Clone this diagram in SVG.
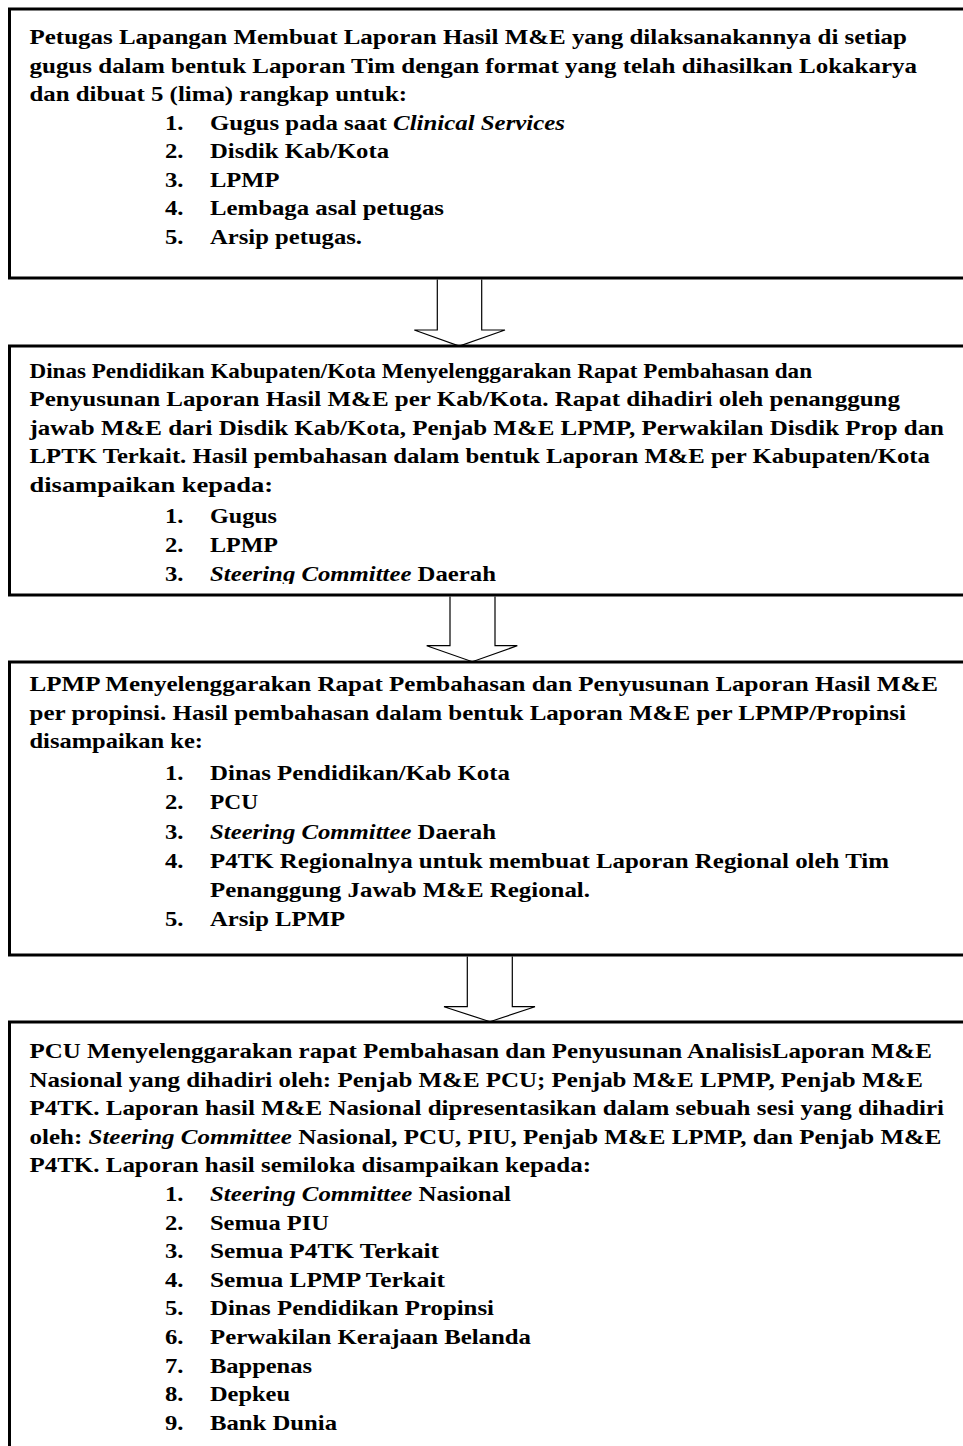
<svg xmlns="http://www.w3.org/2000/svg" width="963" height="1446" viewBox="0 0 963 1446">
<style>
.box{fill:#fff;stroke:#000;stroke-width:3}
.t{font-family:"Liberation Serif","Times New Roman",serif;font-weight:bold;font-size:22px;fill:#000}
.i{font-style:italic}
.arr{fill:none;stroke:#000;stroke-width:1.2;stroke-linejoin:miter}
</style>
<defs>
<clipPath id="clip2"><rect x="0" y="347" width="963" height="237"/></clipPath>
</defs>
<g id="node1">
<rect class="box" x="9.5" y="9" width="970" height="269"/>
<text class="t" x="29.5" y="44" textLength="877.5" lengthAdjust="spacingAndGlyphs">Petugas Lapangan Membuat Laporan Hasil M&amp;E yang dilaksanakannya di setiap</text>
<text class="t" x="29.5" y="72.5" textLength="887.5" lengthAdjust="spacingAndGlyphs">gugus dalam bentuk Laporan Tim dengan format yang telah dihasilkan Lokakarya</text>
<text class="t" x="29.5" y="101" textLength="377.5" lengthAdjust="spacingAndGlyphs">dan dibuat 5 (lima) rangkap untuk:</text>
<text class="t" x="165" y="129.5" textLength="18.5" lengthAdjust="spacingAndGlyphs">1.</text>
<text class="t" x="210" y="129.5" textLength="355" lengthAdjust="spacingAndGlyphs">Gugus pada saat <tspan class="i">Clinical Services</tspan></text>
<text class="t" x="165" y="158" textLength="18.5" lengthAdjust="spacingAndGlyphs">2.</text>
<text class="t" x="210" y="158" textLength="179" lengthAdjust="spacingAndGlyphs">Disdik Kab/Kota</text>
<text class="t" x="165" y="186.5" textLength="18.5" lengthAdjust="spacingAndGlyphs">3.</text>
<text class="t" x="210" y="186.5" textLength="69.5" lengthAdjust="spacingAndGlyphs">LPMP</text>
<text class="t" x="165" y="215" textLength="18.5" lengthAdjust="spacingAndGlyphs">4.</text>
<text class="t" x="210" y="215" textLength="234" lengthAdjust="spacingAndGlyphs">Lembaga asal petugas</text>
<text class="t" x="165" y="243.5" textLength="18.5" lengthAdjust="spacingAndGlyphs">5.</text>
<text class="t" x="210" y="243.5" textLength="152" lengthAdjust="spacingAndGlyphs">Arsip petugas.</text>
</g>
<g id="node2">
<rect class="box" x="9.5" y="346" width="970" height="249"/>
<g clip-path="url(#clip2)">
<text class="t" x="29.5" y="377.5" textLength="782.5" lengthAdjust="spacingAndGlyphs">Dinas Pendidikan Kabupaten/Kota Menyelenggarakan Rapat Pembahasan dan</text>
<text class="t" x="29.5" y="406" textLength="870.5" lengthAdjust="spacingAndGlyphs">Penyusunan Laporan Hasil M&amp;E per Kab/Kota. Rapat dihadiri oleh penanggung</text>
<text class="t" x="29.5" y="434.5" textLength="914.5" lengthAdjust="spacingAndGlyphs">jawab M&amp;E dari Disdik Kab/Kota, Penjab M&amp;E LPMP, Perwakilan Disdik Prop dan</text>
<text class="t" x="29.5" y="463" textLength="900.5" lengthAdjust="spacingAndGlyphs">LPTK Terkait. Hasil pembahasan dalam bentuk Laporan M&amp;E per Kabupaten/Kota</text>
<text class="t" x="29.5" y="491.5" textLength="243.5" lengthAdjust="spacingAndGlyphs">disampaikan kepada:</text>
<text class="t" x="165" y="522.5" textLength="18.5" lengthAdjust="spacingAndGlyphs">1.</text>
<text class="t" x="210" y="522.5" textLength="67" lengthAdjust="spacingAndGlyphs">Gugus</text>
<text class="t" x="165" y="551.5" textLength="18.5" lengthAdjust="spacingAndGlyphs">2.</text>
<text class="t" x="210" y="551.5" textLength="68" lengthAdjust="spacingAndGlyphs">LPMP</text>
<text class="t" x="165" y="580.5" textLength="18.5" lengthAdjust="spacingAndGlyphs">3.</text>
<text class="t" x="210" y="580.5" textLength="286" lengthAdjust="spacingAndGlyphs"><tspan class="i">Steering Committee</tspan> Daerah</text>
</g>
</g>
<g id="node3">
<rect class="box" x="9.5" y="662" width="970" height="293"/>
<text class="t" x="29.5" y="691" textLength="908.5" lengthAdjust="spacingAndGlyphs">LPMP Menyelenggarakan Rapat Pembahasan dan Penyusunan Laporan Hasil M&amp;E</text>
<text class="t" x="29.5" y="719.5" textLength="876.5" lengthAdjust="spacingAndGlyphs">per propinsi. Hasil pembahasan dalam bentuk Laporan M&amp;E per LPMP/Propinsi</text>
<text class="t" x="29.5" y="748" textLength="173.5" lengthAdjust="spacingAndGlyphs">disampaikan ke:</text>
<text class="t" x="165" y="780" textLength="18.5" lengthAdjust="spacingAndGlyphs">1.</text>
<text class="t" x="210" y="780" textLength="300" lengthAdjust="spacingAndGlyphs">Dinas Pendidikan/Kab Kota</text>
<text class="t" x="165" y="809" textLength="18.5" lengthAdjust="spacingAndGlyphs">2.</text>
<text class="t" x="210" y="809" textLength="48" lengthAdjust="spacingAndGlyphs">PCU</text>
<text class="t" x="165" y="838.5" textLength="18.5" lengthAdjust="spacingAndGlyphs">3.</text>
<text class="t" x="210" y="838.5" textLength="286" lengthAdjust="spacingAndGlyphs"><tspan class="i">Steering Committee</tspan> Daerah</text>
<text class="t" x="165" y="867.5" textLength="18.5" lengthAdjust="spacingAndGlyphs">4.</text>
<text class="t" x="210" y="867.5" textLength="679" lengthAdjust="spacingAndGlyphs">P4TK Regionalnya untuk membuat Laporan Regional oleh Tim</text>
<text class="t" x="210" y="896.5" textLength="380" lengthAdjust="spacingAndGlyphs">Penanggung Jawab M&amp;E Regional.</text>
<text class="t" x="165" y="925.5" textLength="18.5" lengthAdjust="spacingAndGlyphs">5.</text>
<text class="t" x="210" y="925.5" textLength="135" lengthAdjust="spacingAndGlyphs">Arsip LPMP</text>
</g>
<g id="node4">
<rect class="box" x="9.5" y="1022" width="970" height="440"/>
<text class="t" x="29.5" y="1058" textLength="902.5" lengthAdjust="spacingAndGlyphs">PCU Menyelenggarakan rapat Pembahasan dan Penyusunan AnalisisLaporan M&amp;E</text>
<text class="t" x="29.5" y="1086.6" textLength="893.5" lengthAdjust="spacingAndGlyphs">Nasional yang dihadiri oleh: Penjab M&amp;E PCU; Penjab M&amp;E LPMP, Penjab M&amp;E</text>
<text class="t" x="29.5" y="1115.2" textLength="914.5" lengthAdjust="spacingAndGlyphs">P4TK. Laporan hasil M&amp;E Nasional dipresentasikan dalam sebuah sesi yang dihadiri</text>
<text class="t" x="29.5" y="1143.8" textLength="912" lengthAdjust="spacingAndGlyphs">oleh: <tspan class="i">Steering Committee</tspan> Nasional, PCU, PIU, Penjab M&amp;E LPMP, dan Penjab M&amp;E</text>
<text class="t" x="29.5" y="1172.4" textLength="561.5" lengthAdjust="spacingAndGlyphs">P4TK. Laporan hasil semiloka disampaikan kepada:</text>
<text class="t" x="165" y="1201" textLength="18.5" lengthAdjust="spacingAndGlyphs">1.</text>
<text class="t" x="210" y="1201" textLength="301" lengthAdjust="spacingAndGlyphs"><tspan class="i">Steering Committee</tspan> Nasional</text>
<text class="t" x="165" y="1229.6" textLength="18.5" lengthAdjust="spacingAndGlyphs">2.</text>
<text class="t" x="210" y="1229.6" textLength="119" lengthAdjust="spacingAndGlyphs">Semua PIU</text>
<text class="t" x="165" y="1258.2" textLength="18.5" lengthAdjust="spacingAndGlyphs">3.</text>
<text class="t" x="210" y="1258.2" textLength="229" lengthAdjust="spacingAndGlyphs">Semua P4TK Terkait</text>
<text class="t" x="165" y="1286.8" textLength="18.5" lengthAdjust="spacingAndGlyphs">4.</text>
<text class="t" x="210" y="1286.8" textLength="235" lengthAdjust="spacingAndGlyphs">Semua LPMP Terkait</text>
<text class="t" x="165" y="1315.4" textLength="18.5" lengthAdjust="spacingAndGlyphs">5.</text>
<text class="t" x="210" y="1315.4" textLength="284" lengthAdjust="spacingAndGlyphs">Dinas Pendidikan Propinsi</text>
<text class="t" x="165" y="1344" textLength="18.5" lengthAdjust="spacingAndGlyphs">6.</text>
<text class="t" x="210" y="1344" textLength="321" lengthAdjust="spacingAndGlyphs">Perwakilan Kerajaan Belanda</text>
<text class="t" x="165" y="1372.6" textLength="18.5" lengthAdjust="spacingAndGlyphs">7.</text>
<text class="t" x="210" y="1372.6" textLength="102" lengthAdjust="spacingAndGlyphs">Bappenas</text>
<text class="t" x="165" y="1401.2" textLength="18.5" lengthAdjust="spacingAndGlyphs">8.</text>
<text class="t" x="210" y="1401.2" textLength="80" lengthAdjust="spacingAndGlyphs">Depkeu</text>
<text class="t" x="165" y="1429.8" textLength="18.5" lengthAdjust="spacingAndGlyphs">9.</text>
<text class="t" x="210" y="1429.8" textLength="127" lengthAdjust="spacingAndGlyphs">Bank Dunia</text>
</g>
<g id="connectors">
<path class="arr" d="M437.3,279.5 V330 H414.3 L459.3,346 L505,330 H481.7 V279.5"/>
<path class="arr" d="M450,596.5 V645.7 H426.7 L472.3,661.7 L517.3,645.7 H495 V596.5"/>
<path class="arr" d="M467.3,956.5 V1006.7 H444 L490,1021.7 L535,1006.7 H512.3 V956.5"/>
</g>
</svg>
